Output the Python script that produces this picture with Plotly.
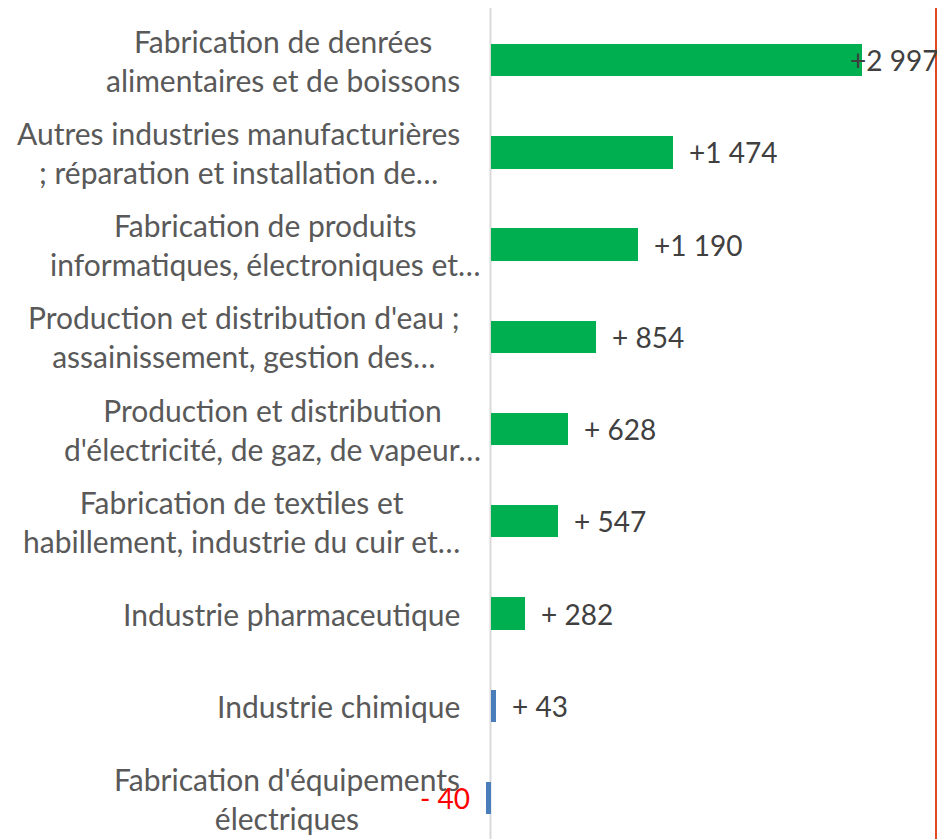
import plotly.graph_objects as go

categories = [
    "Fabrication de denrées<br>alimentaires et de boissons",
    "Autres industries manufacturières<br>; réparation et installation de…",
    "Fabrication de produits<br>informatiques, électroniques et…",
    "Production et distribution d'eau ;<br>assainissement, gestion des…",
    "Production et distribution<br>d'électricité, de gaz, de vapeur…",
    "Fabrication de textiles et<br>habillement, industrie du cuir et…",
    "Industrie pharmaceutique",
    "Industrie chimique",
    "Fabrication d'équipements<br>électriques",
]
values = [2997, 1474, 1190, 854, 628, 547, 282, 43, -40]

GREEN = "#00B050"
BLUE = "#4A7EBB"
bar_colors = [GREEN] * 7 + [BLUE] * 2
# horizontal nudge (px) of category labels whose truncated line overflows
label_nudge = [0, 0, 21, 0, 21, 0, 0, 0, 0]


def fmt(v):
    sign = "+" if v >= 0 else "-"
    a = abs(v)
    if a >= 1000:
        s = f"{a:,}".replace(",", " ")
        return f"{sign}{s}"
    return f"{sign} {a}"


OFF = 8  # default page body margin
W, H = 945 - 2 * OFF, 839 - OFF
ML, MT = 485 - OFF, 14 - OFF
ZERO = 490.5 - OFF
k = 371.5 / 2997.0  # px per unit
x_left = -(ZERO - ML) / k
x_right = (W - ZERO) / k
row = 92.3
y_bottom = 8 + (H + OFF - 798) / row

ids = list(range(len(categories)))

fig = go.Figure()
fig.add_trace(go.Bar(
    y=ids, x=values, orientation="h",
    marker=dict(color=bar_colors, line=dict(width=0)),
    width=0.35, hoverinfo="skip",
))

font_family = "Lato, 'Noto Sans', sans-serif"

for i, (c, v) in enumerate(zip(categories, values)):
    fig.add_annotation(
        x=-0.05, xref="paper", y=i, yref="y", text=c, showarrow=False,
        xanchor="right", yanchor="middle", align="center",
        xshift=label_nudge[i],
        font=dict(family=font_family, size=30, color="#595959"),
    )
    if v >= 0:
        shift = -14 if i == 0 else 14
        fig.add_annotation(
            x=v, y=i, text=fmt(v), showarrow=False, xanchor="left",
            yanchor="middle", xshift=shift,
            font=dict(family=font_family, size=28, color="#404040"),
        )
    else:
        fig.add_annotation(
            x=v, y=i, text=fmt(v), showarrow=False, xanchor="right",
            yanchor="middle", xshift=-14,
            font=dict(family=font_family, size=28, color="#FF0000"),
        )

# zero axis line
fig.add_shape(type="line", x0=0, x1=0, xref="x", y0=0, y1=1.2, yref="paper",
              line=dict(color="#D9D9D9", width=2), layer="below")
# red border line on the right
rx = (936 - OFF - ML) / (W - ML)
fig.add_shape(type="line", x0=rx, x1=rx,
              xref="paper", y0=-0.1, y1=1.1, yref="paper",
              line=dict(color="#E04A1E", width=2))

fig.update_layout(
    width=W, height=H,
    margin=dict(l=ML, r=0, t=MT, b=0),
    paper_bgcolor="white", plot_bgcolor="white",
    showlegend=False,
    bargap=0,
    xaxis=dict(range=[x_left, x_right], visible=False, fixedrange=True),
    yaxis=dict(range=[y_bottom, -0.5], visible=False, fixedrange=True),
)

fig.write_html("out.html")
